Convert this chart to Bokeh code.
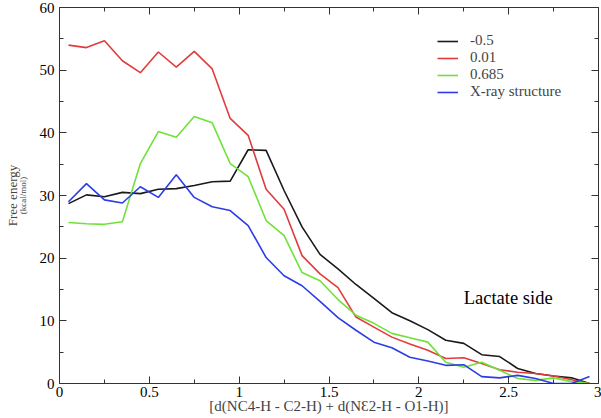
import math
from bokeh.plotting import figure
from bokeh.models import (Range1d, LinearAxis, FixedTicker, Label, Legend, LegendItem)
from bokeh.embed import file_html
from bokeh.resources import INLINE

xs = [0.05, 0.15, 0.25, 0.35, 0.45, 0.55, 0.65, 0.75, 0.85, 0.95,
      1.05, 1.15, 1.25, 1.35, 1.45, 1.55, 1.65, 1.75, 1.85, 1.95,
      2.05, 2.15, 2.25, 2.35, 2.45, 2.55, 2.65, 2.75, 2.85, 2.95]

s_m05 = [28.7, 30.1, 29.8, 30.5, 30.3, 31.0, 31.1, 31.6, 32.2, 32.3,
         37.3, 37.2, 30.8, 25.0, 20.6, 18.3, 15.8, 13.6, 11.3, 10.0,
         8.6, 6.9, 6.4, 4.6, 4.3, 2.4, 1.6, 1.2, 0.9, 0.0]
s_001 = [54.0, 53.6, 54.7, 51.5, 49.6, 52.9, 50.5, 53.0, 50.2, 42.3,
         39.6, 31.0, 27.8, 20.4, 17.5, 15.3, 10.6, 9.0, 7.4, 6.3,
         5.3, 4.0, 4.1, 3.2, 2.2, 1.8, 1.6, 1.2, 0.6, 0.0]
s_0685 = [25.7, 25.5, 25.4, 25.8, 35.1, 40.2, 39.3, 42.6, 41.6, 35.1,
          33.0, 26.0, 23.6, 17.7, 16.4, 13.4, 10.9, 9.6, 8.0, 7.3,
          6.6, 3.4, 2.6, 3.4, 2.1, 0.8, 0.5, 0.9, 0.3, 0.0]
s_xray = [29.0, 31.9, 29.3, 28.8, 31.4, 29.7, 33.3, 29.7, 28.2, 27.6,
          25.2, 20.1, 17.2, 15.6, 13.1, 10.5, 8.5, 6.6, 5.7, 4.2,
          3.6, 2.9, 3.0, 1.1, 0.9, 1.3, 0.8, 0.0, 0.0, 1.1]

series_names = ["-0.5", "0.01", "0.685", "X-ray structure"]
series_colors = ["#1a1a1a", "#e23b3b", "#6fe23a", "#2a3de6"]
x_ticks = [0, 0.5, 1, 1.5, 2, 2.5, 3]
x_minor = [0.25, 0.75, 1.25, 1.75, 2.25, 2.75]
y_ticks = [0, 10, 20, 30, 40, 50, 60]
y_minor = [5, 15, 25, 35, 45, 55]

FONT = "Liberation Serif"

p = figure(width=601, height=418, output_backend="svg", toolbar_location=None,
           x_range=Range1d(0, 3), y_range=Range1d(0, 60),
           min_border_left=59, min_border_right=3, min_border_top=7,
           min_border_bottom=35)
p.grid.visible = False
p.outline_line_color = None
p.background_fill_color = "white"
p.border_fill_color = "white"

renderers = []
for ys, c in zip([s_m05, s_001, s_0685, s_xray], series_colors):
    r = p.line(xs, ys, line_color=c, line_width=1.6)
    renderers.append(r)

def style_axis(ax, ticks, minor, show_labels):
    ax.ticker = FixedTicker(ticks=ticks, minor_ticks=minor)
    ax.major_tick_in = 7
    ax.major_tick_out = 0
    ax.minor_tick_in = 4
    ax.minor_tick_out = 0
    ax.axis_line_color = "#333333"
    ax.major_tick_line_color = "#333333"
    ax.minor_tick_line_color = "#333333"
    ax.major_label_text_font = FONT
    ax.major_label_text_font_size = "15px"
    ax.major_label_text_color = "black"
    ax.major_label_standoff = 3
    if not show_labels:
        ax.major_label_text_alpha = 0
        ax.major_label_text_font_size = "1px"
        ax.major_label_standoff = 0

style_axis(p.xaxis[0], x_ticks, x_minor, True)
style_axis(p.yaxis[0], y_ticks, y_minor, True)
p.xaxis[0].axis_label = "[d(NC4-H - C2-H) + d(N\u01902-H - O1-H)]"
p.xaxis[0].axis_label_text_font = FONT
p.xaxis[0].axis_label_text_font_size = "15px"
p.xaxis[0].axis_label_text_font_style = "normal"
p.xaxis[0].axis_label_standoff = -2
p.xaxis[0].major_label_overrides = {0: "0", 1: "1", 2: "2", 3: "3"}

p.yaxis[0].major_label_standoff = 5
p.yaxis[0].axis_label = "(kcal/mol)"
p.yaxis[0].axis_label_text_font = FONT
p.yaxis[0].axis_label_text_font_size = "9px"
p.yaxis[0].axis_label_text_font_style = "normal"
p.yaxis[0].axis_label_standoff = 9

outer = LinearAxis(axis_label="Free energy", axis_label_text_font=FONT,
                   axis_label_text_font_size="13px", axis_label_text_font_style="normal",
                   axis_label_standoff=-5, axis_line_color=None,
                   major_tick_line_color=None, minor_tick_line_color=None,
                   major_label_text_font_size="1px", major_label_text_alpha=0,
                   major_label_standoff=0, major_tick_in=0, major_tick_out=0,
                   minor_tick_in=0, minor_tick_out=0,
                   ticker=FixedTicker(ticks=[]))
p.add_layout(outer, "left")

top = LinearAxis()
style_axis(top, x_ticks, x_minor, False)
p.add_layout(top, "above")
right = LinearAxis()
style_axis(right, y_ticks, y_minor, False)
p.add_layout(right, "right")

p.add_layout(Label(x=2.25, y=13.7, text="Lactate side",
                   text_font=FONT, text_font_size="18.5px", text_align="left",
                   text_baseline="middle", text_color="black"))

legend = Legend(items=[LegendItem(label=n, renderers=[r]) for n, r in zip(series_names, renderers)],
                location=(378, 283), border_line_color=None, background_fill_alpha=0,
                label_text_font=FONT, label_text_font_size="15px",
                glyph_width=21, glyph_height=14, label_height=14, spacing=-3,
                label_standoff=12, padding=0, margin=0)
p.add_layout(legend)

open("out.html", "w").write(file_html(p, INLINE))
